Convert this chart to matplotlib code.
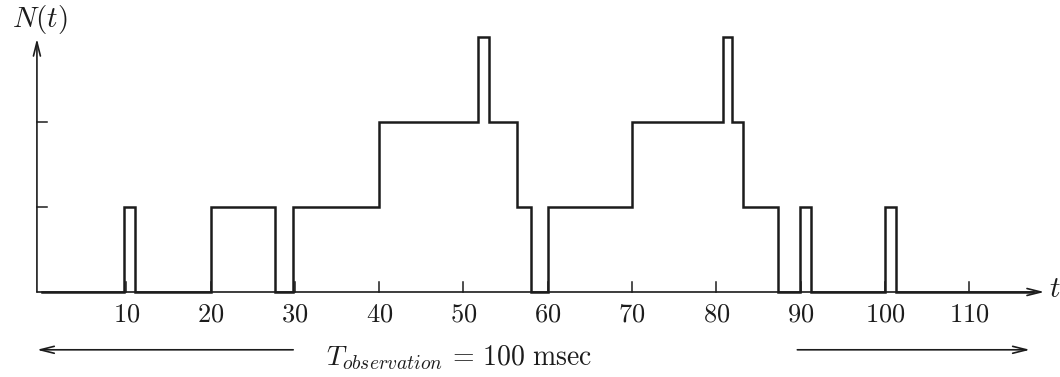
"""Spike count N(t) over a 100 msec observation window."""
import matplotlib
matplotlib.use("Agg")
import matplotlib.pyplot as plt
import numpy as np

plt.rcParams["mathtext.fontset"] = "cm"
plt.rcParams["font.family"] = "serif"

# step edges (msec) and counts that hold from each edge to the next
edges = np.array([0, 9.7, 11.0, 20.0, 27.6, 29.8, 40.0, 51.7, 53.0, 56.3, 58.0,
                  60.0, 70.0, 80.8, 81.9, 83.2, 87.3, 89.9, 91.2, 100.0, 101.3, 117.5])
counts = np.array([0, 1, 0, 1, 0, 1, 2, 3, 2, 1, 0,
                   1, 2, 3, 2, 1, 0, 1, 0, 1, 0])
xticks = np.arange(10, 120, 10)
yticks = [1, 2]
window_label = r"$T_{observation}\,=\,100\ \mathrm{msec}$"

INK = "#1c1c1c"
x0 = -0.6  # where the axes cross

fig = plt.figure(figsize=(10.6, 3.77), dpi=100)
ax = fig.add_axes([0, 0, 1, 1])
ax.set_xlim(-4.98, 120.76)
ax.set_ylim(-1.0, 3.435)
ax.axis("off")

# the count trace
ax.step(edges, np.append(counts, counts[-1]), where="post", color=INK, lw=1.8,
        solid_joinstyle="miter")

# axes with arrow heads
arrow = dict(arrowstyle="->,head_length=1.0,head_width=0.25", color=INK, lw=1.2,
             shrinkA=0, shrinkB=0)
ax.annotate("", xy=(118.9, 0), xytext=(x0, 0), arrowprops=arrow)
ax.annotate("", xy=(x0, 2.98), xytext=(x0, 0), arrowprops=arrow)
ax.text(119.5, 0.04, r"$t$", fontsize=21, ha="left", va="center", color=INK)
ax.text(-0.2, 3.2, r"$N(t)$", fontsize=21, ha="center", va="center", color=INK)

# tick marks and labels
for t in xticks:
    ax.plot([t, t], [0, 0.12], color=INK, lw=1.1)
    ax.text(t, -0.26, f"${t}$", fontsize=19, ha="center", va="center", color=INK)
for n in yticks:
    ax.plot([x0, x0 + 1.2], [n, n], color=INK, lw=1.1)

# observation window
ax.annotate("", xy=(x0, -0.68), xytext=(29.8, -0.68), arrowprops=arrow)
ax.annotate("", xy=(117.2, -0.68), xytext=(89.6, -0.68), arrowprops=arrow)
ax.text(49.5, -0.77, window_label, fontsize=20, ha="center", va="center", color=INK)

fig.savefig("out.png", dpi=100, facecolor="white")
